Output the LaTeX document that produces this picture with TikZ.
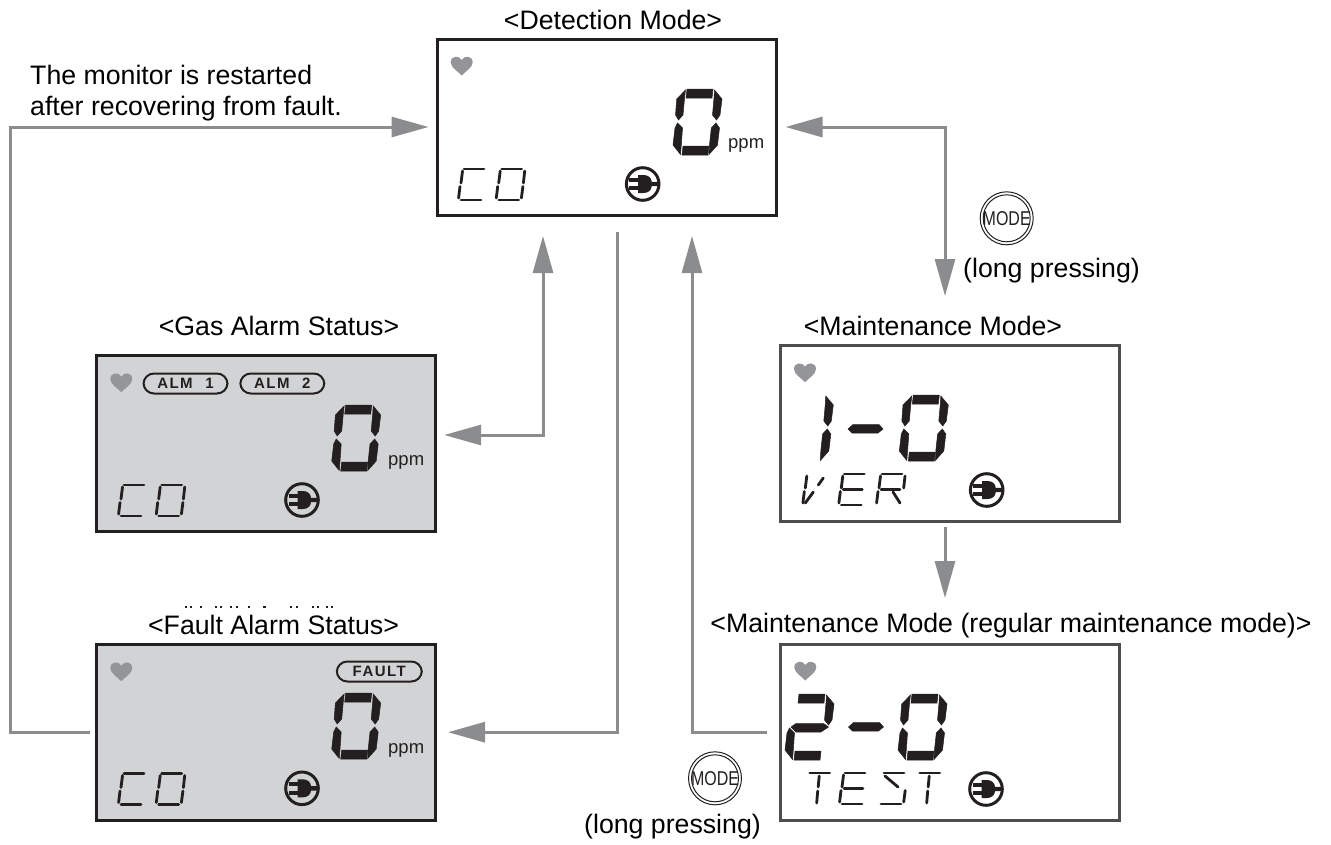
\documentclass[tikz,border=0pt]{standalone}
\usepackage{fontspec}
\setmainfont{Liberation Sans}
\usetikzlibrary{arrows.meta}
\definecolor{conngray}{HTML}{8A8C8E}
\definecolor{inkblack}{HTML}{231F20}
\definecolor{lcdgray}{HTML}{D1D3D4}
\definecolor{heartgray}{HTML}{939598}
\definecolor{maintline}{HTML}{4D4D4D}
\tikzset{
  conn/.style={draw=conngray,line width=3pt},
  bigtip/.tip={Triangle[length=37pt,width=20pt,color=conngray]},
  lcdbox/.style={draw=inkblack,line width=3pt,minimum width=339pt,minimum height=176pt,inner sep=0pt},
  graybox/.style={lcdbox,fill=lcdgray},
  maintbox/.style={lcdbox,draw=maintline},
  lab/.style={inner sep=0pt,font=\fontsize{26.7}{30}\selectfont,anchor=base},
  lableft/.style={lab,anchor=base west},
  ppmtext/.style={inner sep=0pt,anchor=base west,font=\fontsize{18.5}{20}\selectfont,text=inkblack},
  pilltext/.style={inner sep=0pt,font=\fontsize{15}{16}\selectfont\bfseries\addfontfeature{LetterSpace=10},text=inkblack},
  pillbox/.style={draw=inkblack,line width=2pt,rounded corners=10.5pt,minimum height=20pt,inner sep=0pt},
  seg/.style={fill=inkblack,draw=inkblack,line width=.5pt},
  thin seg/.style={draw=inkblack,line width=2.8pt,line cap=round},
  modering/.style={circle,draw=inkblack,line width=1pt,minimum size=53pt,inner sep=0pt},
  modetext/.style={inner sep=0pt,font=\fontsize{20}{20}\selectfont,text=inkblack,xscale=.8},
}
% big seven-segment parts, local px coordinates
\newcommand{\sA}{\fill[seg] (14,0)--(40,0)--(39,9)--(13,9)--cycle;}
\newcommand{\sB}{\fill[seg] (41.5,1)--(49,10)--(47,26)--(43.5,31)--(39.5,26)--(41,9)--cycle;}
\newcommand{\sC}{\fill[seg] (43,34)--(46.5,39)--(44.5,56)--(36,65.5)--(36.5,56)--(38.3,39)--cycle;}
\newcommand{\sD}{\fill[seg] (10,57)--(36,57)--(35,66)--(9,66)--cycle;}
\newcommand{\sE}{\fill[seg] (4.5,34)--(9.5,39)--(8.3,56)--(7.5,65.5)--(0,56)--(2,39)--cycle;}
\newcommand{\sF}{\fill[seg] (12.5,1)--(11.5,9.5)--(10,26)--(5.5,31)--(2.5,26)--(3.7,10)--cycle;}
\newcommand{\sTwoMid}{\fill[seg] (38.5,29.5)--(43.5,33)--(36,38)--(11,38)--(6,33)--(11,29.5)--cycle;}
\newcommand{\BigZero}[2]{\begin{scope}[shift={(#1,#2)}]\sA\sB\sC\sD\sE\sF\end{scope}}
\newcommand{\BigOne}[2]{\begin{scope}[shift={(#1,#2)}]\sB\sC\end{scope}}
\newcommand{\BigTwo}[2]{\begin{scope}[shift={(#1,#2)}]\sA\sB\sTwoMid\sE\sD\end{scope}}
\newcommand{\BigDash}[2]{\fill[seg,shift={(#1,#2)}] (0,4.5)--(5,0)--(31,0)--(35,4.5)--(30,8.5)--(4,8.5)--cycle;}
% small segment parts
\newcommand{\tA}{\draw[thin seg] (6,1)--(26,1);}
\newcommand{\tB}{\draw[thin seg] (29,3)--(27.7,15);}
\newcommand{\tC}{\draw[thin seg] (27.2,18.5)--(25.7,30);}
\newcommand{\tD}{\draw[thin seg] (3,32)--(23,32);}
\newcommand{\tE}{\draw[thin seg] (2,18.5)--(.6,30);}
\newcommand{\tF}{\draw[thin seg] (4.5,3)--(3,15);}
\newcommand{\tG}{\draw[thin seg] (5,16.5)--(24,16.5);}
\newcommand{\SmC}[2]{\begin{scope}[shift={(#1,#2)}]\tA\tD\tE\tF\end{scope}}
\newcommand{\SmO}[2]{\begin{scope}[shift={(#1,#2)}]\tA\tB\tC\tD\tE\tF\end{scope}}
\newcommand{\SmE}[2]{\begin{scope}[shift={(#1,#2)}]\tA\tD\tE\tF\tG\end{scope}}
\newcommand{\SmR}[2]{\begin{scope}[shift={(#1,#2)}]\tA\tB\tE\tF\tG\draw[thin seg] (17,19)--(24,30);\end{scope}}
\newcommand{\SmV}[2]{\begin{scope}[shift={(#1,#2)}]\tE\tF\draw[thin seg] (21,5)--(16,12);\draw[thin seg] (11,19)--(3,30);\end{scope}}
\newcommand{\SmT}[2]{\begin{scope}[shift={(#1,#2)}]\draw[thin seg] (3,1)--(23,1);\draw[thin seg] (12.5,4)--(11.5,15);\draw[thin seg] (11,19)--(10,31);\end{scope}}
\newcommand{\SmS}[2]{\begin{scope}[shift={(#1,#2)}]\tA\tC\tD\draw[thin seg] (7,4)--(20,15);\end{scope}}
\newcommand{\Heart}[2]{\fill[heartgray,shift={(#1,#2)}] (0,9.5) .. controls (-3,6) and (-11,1.5) .. (-11,-3.5) .. controls (-11,-10.5) and (-2.5,-11) .. (0,-6) .. controls (2.5,-11) and (11,-10.5) .. (11,-3.5) .. controls (11,1.5) and (3,6) .. (0,9.5) -- cycle;}
\newcommand{\Plug}[2]{\begin{scope}[shift={(#1,#2)}]
  \draw[inkblack,line width=3pt] (0,0) circle (16.3);
  \fill[inkblack] (-13.5,-6.3) rectangle (-3,-2.3);
  \fill[inkblack] (-13.5,2.3) rectangle (-3,6.3);
  \fill[inkblack] (-4.5,-9) -- (1,-9) .. controls (5.5,-9) and (9,-6) .. (9,-2.2) -- (16,-2.2) -- (16,2.2) -- (9,2.2) .. controls (9,6) and (5.5,9) .. (1,9) -- (-4.5,9) -- cycle;
\end{scope}}
\begin{document}
\begin{tikzpicture}[x=1pt,y=-1pt]
\useasboundingbox (0,0) rectangle (1331,844);
% boxes
\node[lcdbox] (det) at (606.5,127) {};
\node[graybox] (gas) at (266,443.7) {};
\node[graybox] (fault) at (266,732.2) {};
\node[maintbox] (maint) at (950,433.7) {};
\node[maintbox] (test) at (950.3,732.2) {};
% titles
\node[lab] (tdet) at (613,29) {<Detection Mode>};
\node[lab] (tgas) at (279,335) {<Gas Alarm Status>};
\node[lab] (tfault) at (273.5,634) {<Fault Alarm Status>};
\node[lab] (tmaint) at (933,335) {<Maintenance Mode>};
\node[lab] (ttest) at (1011,632) {<Maintenance Mode (regular maintenance mode)>};
\node[lableft] (restart1) at (30,84) {The monitor is restarted};
\node[lableft] (restart2) at (30,115) {after recovering from fault.};
\node[lab] (press1) at (1051.5,277) {(long pressing)};
\node[lab] (press2) at (672.5,833) {(long pressing)};
% clipped remnant of text above the fault title
\foreach \mx/\mw in {185/2,190/2,200/1.5,215/2,220/1.5,230/2,236/1.5,248/2,263/3,290/2,296/2,312/2,317/2,326/2,331/2}
  \fill[inkblack] (\mx,605.5) rectangle ++(\mw,2);
% port coordinates
\coordinate (railL) at (10,400);
\coordinate (gasport) at (436.7,435);
\coordinate (detgas) at (543,216);
\coordinate (detdown) at (617,216);
\coordinate (detup) at (692,216);
\coordinate (maintin) at (945,344);
\coordinate (maintout) at (945,523);
\coordinate (testin) at (945,643);
% connectors
\draw[conn,-{bigtip},shorten <=5pt,shorten >=7pt] (fault.west) -| (railL) |- (det.west);
\draw[conn,{bigtip}-{bigtip},shorten <=7.5pt,shorten >=20pt] (gasport) -| (detgas);
\draw[conn,-{bigtip},shorten <=16pt,shorten >=11pt] (detdown) |- (fault.east);
\draw[conn,-{bigtip},shorten <=12pt,shorten >=20pt] (test.west) -| (detup);
\draw[conn,{bigtip}-{bigtip},shorten <=8pt,shorten >=48pt] (det.east) -| (maintin);
\draw[conn,-{bigtip},shorten <=4pt,shorten >=45pt] (maintout) -- (testin);
% mode buttons
\node[modering,minimum size=53pt] (btnA) at (1006.7,218.3) {};
\node[modering,minimum size=47pt] (btnAi) at (btnA) {};
\node[modetext] (btnAt) at (btnA) {MODE};
\node[modering,minimum size=53pt] (btnB) at (715,778.3) {};
\node[modering,minimum size=47pt] (btnBi) at (btnB) {};
\node[modetext] (btnBt) at (btnB) {MODE};
% detection display
\Heart{461.7}{66}
\BigZero{673}{89}
\node[ppmtext] (ppmdet) at (728,148) {ppm};
\SmC{458}{168}
\SmO{495.7}{168}
\Plug{642.7}{184}
% gas display
\Heart{121.3}{382.7}
\node[pillbox,minimum width=84pt] (alm1) at (185.5,383.5) {};
\node[pillbox,minimum width=84pt] (alm2) at (282.3,383.5) {};
\node[pilltext] (alm1t) at (185.5,383.5) {ALM\hspace{7pt} 1};
\node[pilltext] (alm2t) at (282.3,383.5) {ALM\hspace{7pt} 2};
\BigZero{331.7}{405}
\node[ppmtext] (ppmgas) at (388,465) {ppm};
\SmC{118}{484}
\SmO{155.7}{484}
\Plug{302}{500}
% fault display
\Heart{121.3}{671.7}
\node[pillbox,minimum width=85pt] (faultpill) at (379.3,671.5) {};
\node[pilltext] (faultt) at (379.3,671.5) {FAULT};
\BigZero{331.7}{693}
\node[ppmtext] (ppmfault) at (388,753) {ppm};
\SmC{118}{772.5}
\SmO{155.7}{772.5}
\Plug{302}{788.3}
% maintenance display
\Heart{805}{372.7}
\BigOne{784.3}{395}
\BigDash{848}{424.5}
\BigZero{899.3}{395}
\SmV{802.3}{473}
\SmE{838.3}{473}
\SmR{876}{473}
\Plug{986.7}{490}
% test display
\Heart{805.3}{671}
\BigTwo{785}{694}
\BigDash{848.5}{722.5}
\BigZero{898}{694}
\SmT{806.7}{772}
\SmE{839}{772}
\SmS{878}{772}
\SmT{916.7}{772}
\Plug{986}{789}
\end{tikzpicture}
\end{document}
